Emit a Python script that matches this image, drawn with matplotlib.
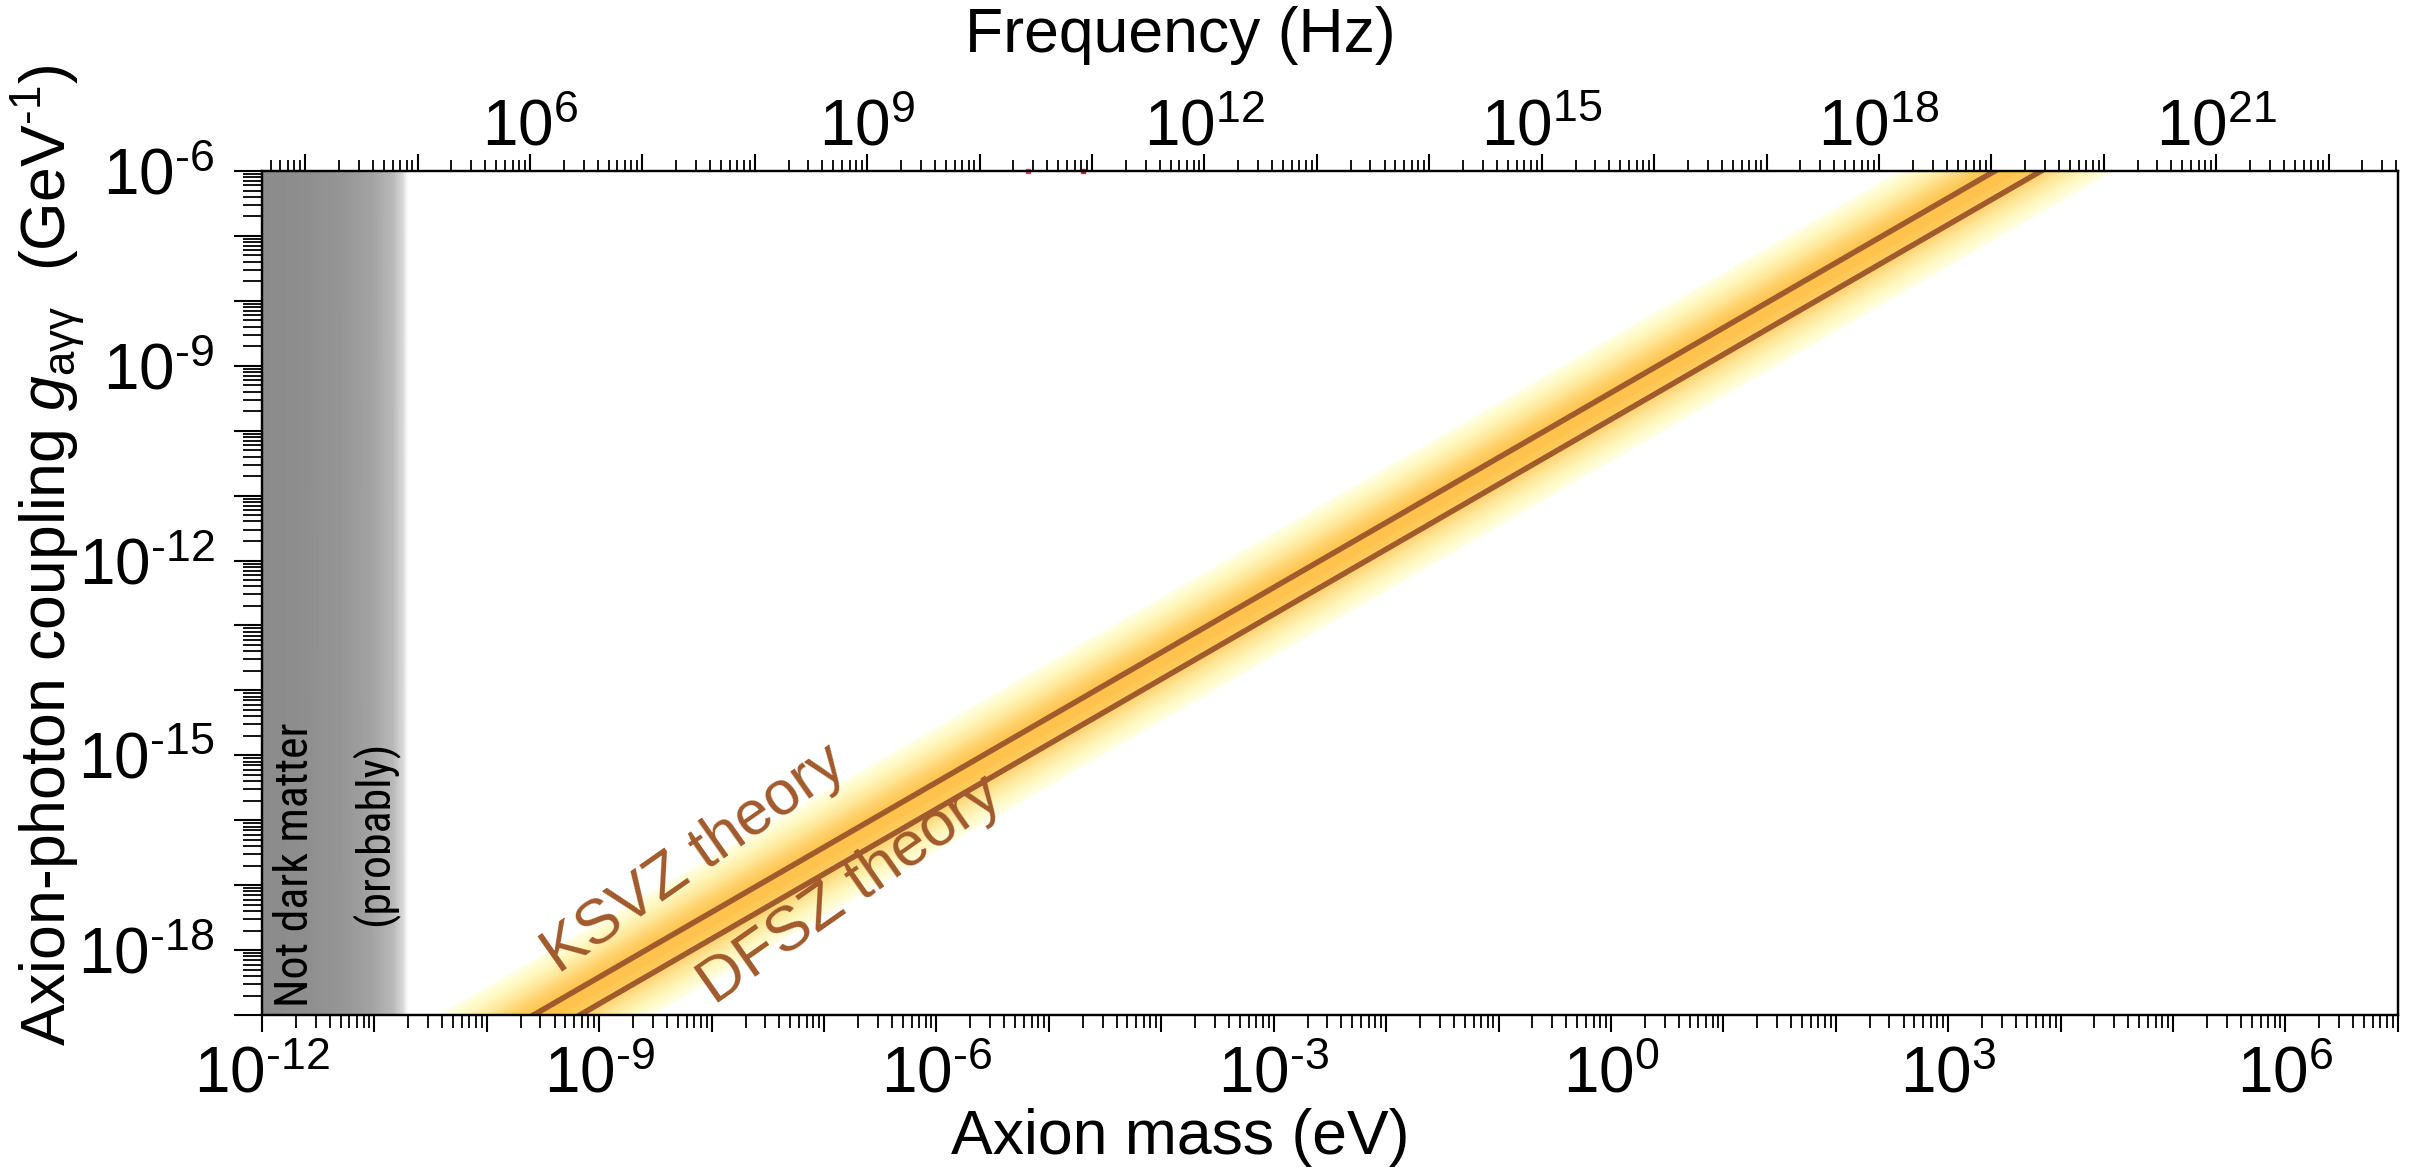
import numpy as np
import matplotlib
matplotlib.use("Agg")
import matplotlib.pyplot as plt
from matplotlib.colors import LinearSegmentedColormap
from matplotlib.ticker import LogLocator, FuncFormatter, NullFormatter

plt.rcParams['font.family'] = ['Liberation Sans', 'DejaVu Sans']
plt.rcParams['mathtext.fontset'] = 'custom'
plt.rcParams['mathtext.rm'] = 'Liberation Sans'
plt.rcParams['mathtext.it'] = 'Liberation Sans:italic'
plt.rcParams['mathtext.bf'] = 'Liberation Sans:bold'

# plot ranges
mass_range = [1e-12, 1e7]        # eV
coupling_range = [1e-19, 1e-6]   # GeV^-1
hz_per_ev = 4.136e15             # factor used for the top (frequency) axis

# QCD axion model lines, where they cross the plot edges
ksvz_mass = [2.6e-10, 2.6e3]
ksvz_g = [1e-19, 1e-6]
dfsz_mass = [6.7e-10, 6.7e3]
dfsz_g = [1e-19, 1e-6]

# band around the models: centred on g = band_coeff*m, spread in decades
band_coeff = 3e-10
band_width = 0.75

# "not dark matter" shading reaches up to this mass
ndm_edge = 2e-11

# tiny coloured marks just under the top edge
edge_mark_mass = [6.5e-6, 2.0e-5]
edge_mark_col = ['#e8336a', '#b03048']

model_col = '#a15a2b'
narrow = ['Roboto Condensed', 'Liberation Sans Narrow', 'Liberation Sans']

fig = plt.figure(figsize=(24.17, 11.67), dpi=100)
ax = fig.add_subplot(111)
fig.subplots_adjust(left=0.1084, right=0.9921, bottom=0.1302, top=0.8535)
ax.set_xscale('log')
ax.set_yscale('log')
ax.set_xlim(mass_range)
ax.set_ylim(coupling_range)

# QCD axion band
m = np.logspace(np.log10(mass_range[0]), np.log10(mass_range[1]), 600)
g = np.logspace(np.log10(coupling_range[0]), np.log10(coupling_range[1]), 600)
M, G = np.meshgrid(m, g)
d = np.log10(G) - np.log10(band_coeff*M)
pdf = np.exp(-0.5*(d/band_width)**2)/(band_width*np.sqrt(2*np.pi))
cmap = plt.get_cmap('YlOrBr').copy()
cmap.set_under('w')
ax.contourf(m, g, pdf, 50, cmap=cmap, vmin=pdf.max()*0.46, vmax=1.0, zorder=0)

# not dark matter region
gx = np.logspace(np.log10(mass_range[0]), np.log10(ndm_edge), 200)
vals = np.tile(np.linspace(0, 1, 200), (2, 1))
gray_cmap = LinearSegmentedColormap.from_list('ndm', [(0, '#8b8b8b'), (0.3, '#8e8e8e'), (0.55, '#969696'),
                                                      (0.75, '#a3a3a3'), (0.9, '#b9b9b9'), (0.97, '#dcdcdc'),
                                                      (1, '#ffffff')])
ax.pcolormesh(gx, coupling_range, vals, cmap=gray_cmap, shading='gouraud', zorder=1)
ax.text(1.95e-12, 2.05e-17, 'Not dark matter', rotation=90, ha='center', va='center',
        fontsize=33, family=narrow, zorder=3)
ax.text(1.0e-11, 6.4e-17, '(probably)', rotation=90, ha='center', va='center',
        fontsize=33, family=narrow, zorder=3)

# model lines
ax.plot(ksvz_mass, ksvz_g, '-', lw=4, color=model_col, zorder=2)
ax.plot(dfsz_mass, dfsz_g, '-', lw=4, color=model_col, zorder=2)
ax.text(4.3e-10, 4.3e-19, 'KSVZ theory', fontsize=45, color=model_col, rotation=35,
        rotation_mode='anchor', ha='left', va='baseline', zorder=3)
ax.text(1.05e-8, 1.4e-19, 'DFSZ theory', fontsize=45, color=model_col, rotation=35,
        rotation_mode='anchor', ha='left', va='baseline', zorder=3)

for mm, cc in zip(edge_mark_mass, edge_mark_col):
    ax.plot(mm, coupling_range[1], 's', ms=3, color=cc, zorder=4, clip_on=False)


def every_third(v, pos):
    e = int(round(np.log10(v)))
    if e % 3 != 0:
        return ''
    return r'$10^{\text{%d}}$' % e


for spine in ax.spines.values():
    spine.set_linewidth(1.6)
    spine.set_zorder(5)

for axis in [ax.xaxis, ax.yaxis]:
    axis.set_major_locator(LogLocator(base=10, numticks=40))
    axis.set_minor_locator(LogLocator(base=10, subs=np.arange(2, 10), numticks=40))
    axis.set_major_formatter(FuncFormatter(every_third))
    axis.set_minor_formatter(NullFormatter())

ax.tick_params(axis='x', which='major', direction='out', length=12, width=1.5, labelsize=46, pad=10, top=False)
ax.tick_params(axis='x', which='minor', direction='out', length=9, width=1.3, top=False)
ax.tick_params(axis='y', which='major', direction='out', length=20, width=1.5, labelsize=46, pad=14, right=False)
ax.tick_params(axis='y', which='minor', direction='out', length=14, width=1.3, right=False)

ax.set_xlabel('Axion mass (eV)', fontsize=45, va='top')
ax.xaxis.set_label_coords(0.43, -0.11)
ax.set_ylabel(r'Axion-photon coupling $g_{\mathrm{a\gamma\gamma}}$  (GeV$^{\text{-1}}$)', fontsize=45, va='center')
ax.yaxis.set_label_coords(-0.1, 0.545)

# top frequency axis
ax2 = ax.twiny()
ax2.set_xscale('log')
ax2.set_xlim(mass_range[0]*hz_per_ev, mass_range[1]*hz_per_ev)
ax2.xaxis.set_major_locator(LogLocator(base=10, numticks=40))
ax2.xaxis.set_minor_locator(LogLocator(base=10, subs=np.arange(2, 10), numticks=40))
ax2.xaxis.set_major_formatter(FuncFormatter(every_third))
ax2.xaxis.set_minor_formatter(NullFormatter())
ax2.tick_params(which='major', direction='out', length=12, width=1.5, labelsize=46, pad=-3)
ax2.tick_params(which='minor', direction='out', length=8, width=1.3)
ax2.set_xlabel('Frequency (Hz)', fontsize=45, va='center')
ax2.xaxis.set_label_coords(0.43, 1.16)
for spine in ax2.spines.values():
    spine.set_linewidth(1.6)

fig.savefig('out.png', dpi=100)
